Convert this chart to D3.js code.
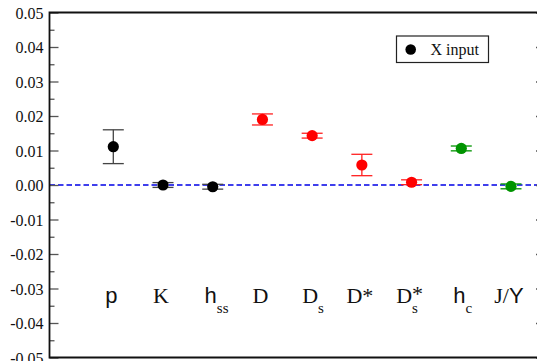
<!DOCTYPE html>
<html>
<head>
<meta charset="utf-8">
<script src="https://cdn.jsdelivr.net/npm/d3@7"></script>
<style>
  html, body { margin: 0; padding: 0; background: #fff; }
  svg { display: block; }
  .serif { font-family: "Liberation Serif", "Times New Roman", Times, serif; }
  .sans { font-family: "Liberation Sans", Arial, Helvetica, sans-serif; }
</style>
</head>
<body>
<div id="chart"></div>
<script>
// ---- data ----
const categories = ["p", "K", "hss", "D", "Ds", "D*", "Ds*", "hc", "J/Y"];
const values = [0.0111, 0.0000, -0.0005, 0.0190, 0.0143, 0.0058, 0.0008, 0.0106, -0.0004];
const errors = [0.0049, 0.0007, 0.0007, 0.0016, 0.0007, 0.0031, 0.0007, 0.0007, 0.0007];
const groups = ["light", "light", "light", "charm", "charm", "charm", "charm", "charmonium", "charmonium"];
// label pieces: main text segments [text, family], subscript, superscript
const labelMain = [
  [["p", "sans"]], [["K", "serif"]], [["h", "sans"]], [["D", "serif"]], [["D", "serif"]],
  [["D*", "serif"]], [["D", "serif"]], [["h", "sans"]], [["J/", "serif"], ["Y", "sans"]]
];
const labelSub = ["", "", "ss", "", "s", "", "s", "c", ""];
const labelSup = ["", "", "", "", "", "", "*", "", ""];
const yTickValues = [0.05, 0.04, 0.03, 0.02, 0.01, 0.00, -0.01, -0.02, -0.03, -0.04, -0.05];
const yTickLabels = ["0.05", "0.04", "0.03", "0.02", "0.01", "0.00", "-0.01", "-0.02", "-0.03", "-0.04", "-0.05"];
const yMinorValues = [0.045, 0.035, 0.025, 0.015, 0.005, -0.005, -0.015, -0.025, -0.035, -0.045];
const legendLabel = "X input";

// ---- styles ----
const colors = { light: "#000000", charm: "#ff0000", charmonium: "#009400" };
const barColors = { light: "#444444", charm: "#ff2020", charmonium: "#009400" };

const W = 537, H = 361;
const frame = { left: 49.5, right: 546, top: 12.5, bottom: 357.5 };

const svg = d3.select("#chart").append("svg").attr("width", W).attr("height", H);

const y = d3.scaleLinear().domain([-0.05, 0.05]).range([frame.bottom, frame.top]);
const x = d3.scalePoint().domain(categories).range([113.3, 511]);

// zero dashed line
svg.append("line")
  .attr("x1", frame.left).attr("x2", frame.right)
  .attr("y1", y(0)).attr("y2", y(0))
  .attr("stroke", "#0000e6").attr("stroke-width", 1.5)
  .attr("stroke-dasharray", "5.5,3");

// left axis
const leftAxis = d3.axisRight(y).tickValues(yTickValues).tickSize(9)
  .tickFormat((d, i) => yTickLabels[i]);
const gL = svg.append("g").attr("transform", `translate(${frame.left},0)`).call(leftAxis)
  .attr("font-family", null).attr("font-size", null);
gL.select(".domain").remove();
gL.selectAll(".tick line").attr("stroke", "#555").attr("stroke-width", 1.3);
gL.selectAll(".tick text")
  .attr("x", -6).attr("text-anchor", "end").attr("dy", "0.35em")
  .attr("class", "serif").style("font-size", "16px").attr("fill", "#111");
const gLm = svg.append("g").attr("transform", `translate(${frame.left},0)`)
  .call(d3.axisRight(y).tickValues(yMinorValues).tickSize(5).tickFormat(""));
gLm.select(".domain").remove();
gLm.selectAll(".tick line").attr("stroke", "#555").attr("stroke-width", 1.3);

// right axis (mostly off-canvas)
const gR = svg.append("g").attr("transform", `translate(${frame.right},0)`)
  .call(d3.axisLeft(y).tickValues(yTickValues).tickSize(10).tickFormat(""));
gR.select(".domain").remove();
gR.selectAll(".tick line").attr("stroke", "#555").attr("stroke-width", 1.3);

// frame
svg.append("path")
  .attr("d", `M${frame.right},${frame.top}H${frame.left}V${frame.bottom}H${frame.right}`)
  .attr("fill", "none").attr("stroke", "#111").attr("stroke-width", 1.8);

// data points with error bars
const data = categories.map((c, i) => ({ c, v: values[i], e: errors[i], g: groups[i] }));
const pts = svg.append("g").selectAll("g").data(data).join("g");
pts.append("line")
  .attr("x1", d => x(d.c)).attr("x2", d => x(d.c))
  .attr("y1", d => y(d.v + d.e)).attr("y2", d => y(d.v - d.e))
  .attr("stroke", d => barColors[d.g]).attr("stroke-width", 1.3);
[1, -1].forEach(s => {
  pts.append("line")
    .attr("x1", d => x(d.c) - 10.5).attr("x2", d => x(d.c) + 10.5)
    .attr("y1", d => y(d.v + s * d.e)).attr("y2", d => y(d.v + s * d.e))
    .attr("stroke", d => barColors[d.g]).attr("stroke-width", 1.3);
});
pts.append("circle")
  .attr("cx", d => x(d.c)).attr("cy", d => y(d.v)).attr("r", 5.6)
  .attr("fill", d => colors[d.g]);

// category labels
const baseY = 303;
categories.forEach((c, i) => {
  const cx = x(c);
  const t = svg.append("text").attr("y", baseY).attr("x", 0).attr("fill", "#111")
    .style("font-size", "22px");
  labelMain[i].forEach(([txt, fam]) => {
    t.append("tspan").attr("class", fam).text(txt);
  });
  const mainW = t.node().getComputedTextLength();
  let supW = 0;
  let supNode = null;
  if (labelSup[i]) {
    supNode = svg.append("text").attr("y", baseY - 2).attr("class", "serif")
      .style("font-size", "22px").attr("fill", "#111").text(labelSup[i]);
    supW = supNode.node().getComputedTextLength();
  }
  const start = cx - (mainW + supW) / 2 - 2;
  t.attr("x", start);
  if (supNode) supNode.attr("x", start + mainW);
  if (labelSub[i]) {
    svg.append("text").attr("x", start + mainW).attr("y", baseY + 10)
      .attr("class", "serif").style("font-size", "15px").attr("fill", "#111")
      .text(labelSub[i]);
  }
});

// legend
const lg = svg.append("g");
lg.append("rect").attr("x", 396.5).attr("y", 36).attr("width", 92).attr("height", 26.5)
  .attr("fill", "#fff").attr("stroke", "#222").attr("stroke-width", 1.2);
lg.append("circle").attr("cx", 410.7).attr("cy", 49.5).attr("r", 5.3).attr("fill", "#000");
lg.append("text").attr("x", 430.5).attr("y", 55).attr("class", "serif")
  .style("font-size", "16px").attr("fill", "#111").text(legendLabel);
</script>
</body>
</html>
